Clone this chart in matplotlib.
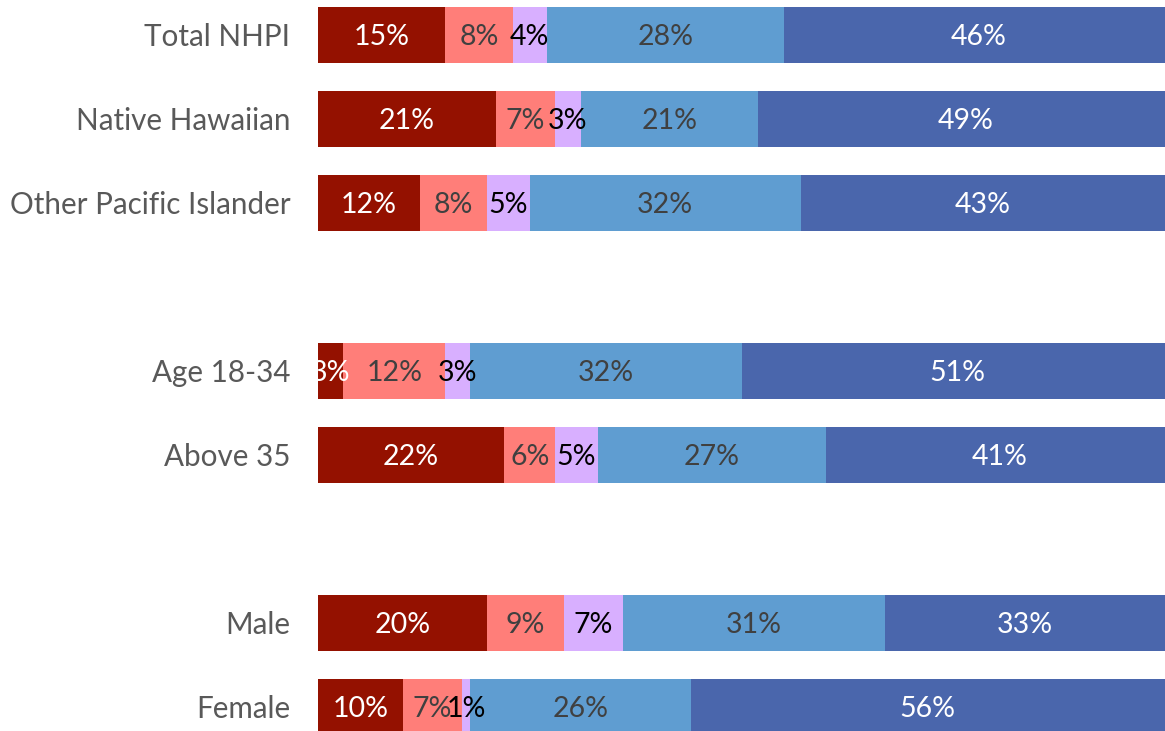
import matplotlib
matplotlib.use("Agg")
import matplotlib.pyplot as plt
import numpy as np

plt.rcParams['font.family'] = ['Lato', 'DejaVu Sans']

categories = ["Total NHPI", "Native Hawaiian", "Other Pacific Islander",
              "Age 18-34", "Above 35", "Male", "Female"]
positions = [0, 1, 2, 4, 5, 7, 8]

seg1 = [15, 21, 12, 3, 22, 20, 10]
seg2 = [8, 7, 8, 12, 6, 9, 7]
seg3 = [4, 3, 5, 3, 5, 7, 1]
seg4 = [28, 21, 32, 32, 27, 31, 26]
seg5 = [46, 49, 43, 51, 41, 33, 56]

series = [seg1, seg2, seg3, seg4, seg5]
colors = ["#941100", "#FF7E79", "#D8AFFF", "#5F9DD1", "#4A66AC"]
text_colors = ["white", "#404040", "black", "#404040", "white"]

W, H = 1165, 731
fig = plt.figure(figsize=(W / 100, H / 100), dpi=100)
ax = fig.add_axes([318 / W, 0, 1 - 318 / W, 1])

left = np.zeros(len(categories))
for vals, c, tc in zip(series, colors, text_colors):
    vals = np.array(vals, dtype=float)
    ax.barh(positions, vals, left=left, height=0.667, color=c, edgecolor='none')
    for p, l, v in zip(positions, left, vals):
        ax.text(l + v / 2, p + 0.02, f"{int(v)}%", ha='center', va='center',
                color=tc, fontsize=20.5)
    left += vals

ax.set_xlim(0, 100)
ax.set_ylim(8 + 24 / 84, -35 / 84)
ax.set_yticks(positions)
ax.set_yticklabels(categories, fontsize=21.3, color='#595959')
ax.tick_params(axis='y', length=0, pad=20)
ax.set_xticks([])
for s in ax.spines.values():
    s.set_visible(False)

fig.savefig("out.png", dpi=100)
